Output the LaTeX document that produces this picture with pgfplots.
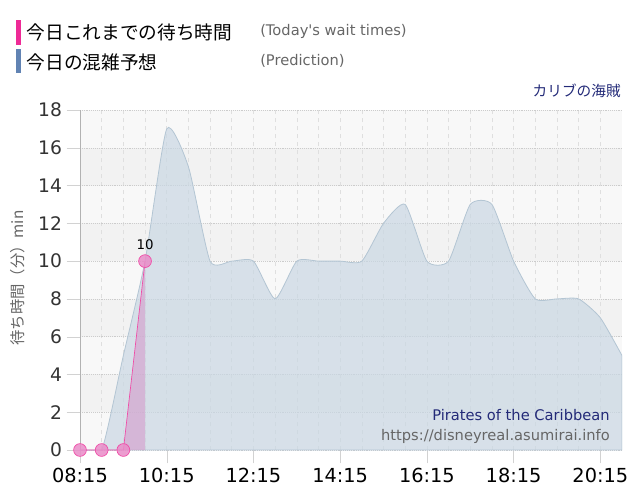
\documentclass[border=0pt]{standalone}
\usepackage{fontspec}
\usepackage{pgfplots}
\pgfplotsset{compat=1.18}
\setmainfont{DejaVu Sans}
\newfontfamily\jp{Noto Sans CJK JP}
\definecolor{pinkline}{HTML}{F04AA6}
\definecolor{pinkmark}{HTML}{E98CC8}
\definecolor{pinkfill}{HTML}{D49BCB}
\definecolor{bluefill}{HTML}{C9D7E3}
\definecolor{blueline}{HTML}{B3C5D3}
\definecolor{legblue}{HTML}{6183B3}
\definecolor{legpink}{HTML}{EE2A96}
\definecolor{navy}{HTML}{232A78}
\definecolor{bandlight}{HTML}{F8F8F8}
\definecolor{banddark}{HTML}{F2F2F2}
\definecolor{txtgray}{HTML}{666666}
\begin{document}
\begin{tikzpicture}
\path[use as bounding box] (0,0) rectangle (480pt,-375pt);
% background bands (plot area 60pt..466.5pt x, -82.5pt..-337.5pt y)
\fill[bandlight] (60pt,-82.5pt) rectangle (466.5pt,-337.5pt);
\foreach \b in {1,3,5,7}{
  \fill[banddark] (60pt,{-337.5pt+\b*28.3333pt}) rectangle (466.5pt,{-337.5pt+(\b+1)*28.3333pt});
}
% legend
\fill[legpink] (12pt,-15pt) rectangle (16pt,-33.75pt);
\fill[legblue] (12pt,-36.75pt) rectangle (16pt,-54.75pt);
\node[anchor=west,inner sep=0pt] at (20pt,-24pt) {\fontsize{14pt}{16pt}\selectfont\jp 今日これまでの待ち時間};
\node[anchor=west,inner sep=0pt] at (20pt,-46.5pt) {\fontsize{14pt}{16pt}\selectfont\jp 今日の混雑予想};
\node[anchor=west,inner sep=0pt,text=txtgray] at (195pt,-23.25pt) {\fontsize{11pt}{13pt}\selectfont (Today\textquotesingle s wait times)};
\node[anchor=west,inner sep=0pt,text=txtgray] at (195pt,-45.75pt) {\fontsize{11pt}{13pt}\selectfont (Prediction)};
\node[anchor=east,inner sep=0pt,text=navy] at (465.75pt,-68.25pt) {\fontsize{11pt}{13pt}\selectfont\jp カリブの海賊};
\node[rotate=90,inner sep=0pt,text=txtgray] at (13.5pt,-208.5pt) {\fontsize{11.5pt}{13pt}\selectfont\jp 待ち時間（分）min};
\begin{axis}[
  at={(60pt,-337.5pt)}, anchor=south west,
  scale only axis, width=406.5pt, height=255pt,
  xmin=8.25, xmax=20.75, ymin=0, ymax=18,
  xtick={8.25,10.25,12.25,14.25,16.25,18.25,20.25},
  xticklabels={08:15,10:15,12:15,14:15,16:15,18:15,20:15},
  minor x tick num=3,
  ytick={0,2,...,18},
  axis lines*=left,
  x axis line style={draw=none},
  y axis line style={draw=gray!60},
  tick align=outside,
  major tick length=10pt, minor tick length=0pt,
  tick style={draw=gray!35},
  xmajorgrids, xminorgrids, ymajorgrids,
  x grid style={dashed, draw=gray!25},
  y grid style={densely dotted, draw=gray!40},
  /pgf/number format/assume math mode=true,
  xticklabel style={font=\fontsize{14.5pt}{16pt}\selectfont, text=black},
  yticklabel style={font=\fontsize{14pt}{16pt}\selectfont, text=black!80},
]
\addplot[smooth, tension=0.35, draw=blueline, fill=bluefill, fill opacity=0.7, line width=0.6pt] coordinates {
(8.25,0) (8.75,0) (9.25,5) (9.75,10) (10.25,17) (10.75,15) (11.25,10) (11.75,10)
(12.25,10) (12.75,8) (13.25,10) (13.75,10) (14.25,10) (14.75,10) (15.25,12) (15.75,13)
(16.25,10) (16.75,10) (17.25,13) (17.75,13) (18.25,10) (18.75,8) (19.25,8) (19.75,8)
(20.25,7) (20.75,5)
} \closedcycle;
\addplot[draw=none, fill=pinkfill, fill opacity=0.6] coordinates {
(8.25,0) (8.75,0) (9.25,0) (9.75,10)
} \closedcycle;
\addplot[draw=pinkline, line width=0.5pt, mark=*, mark size=4.8pt,
  mark options={draw=none, fill=pinkmark, fill opacity=0.85}] coordinates {
(8.25,0) (8.75,0) (9.25,0) (9.75,10)
};
\node[above, inner sep=0pt, yshift=8pt] at (axis cs:9.75,10) {\fontsize{10pt}{12pt}\selectfont 10};
\end{axis}
\node[anchor=east,inner sep=0pt,text=navy] at (457.5pt,-311.25pt) {\fontsize{11pt}{13pt}\selectfont Pirates of the Caribbean};
\node[anchor=east,inner sep=0pt,text=txtgray] at (457.5pt,-327pt) {\fontsize{11pt}{13pt}\selectfont https://disneyreal.asumirai.info};
\end{tikzpicture}
\end{document}
